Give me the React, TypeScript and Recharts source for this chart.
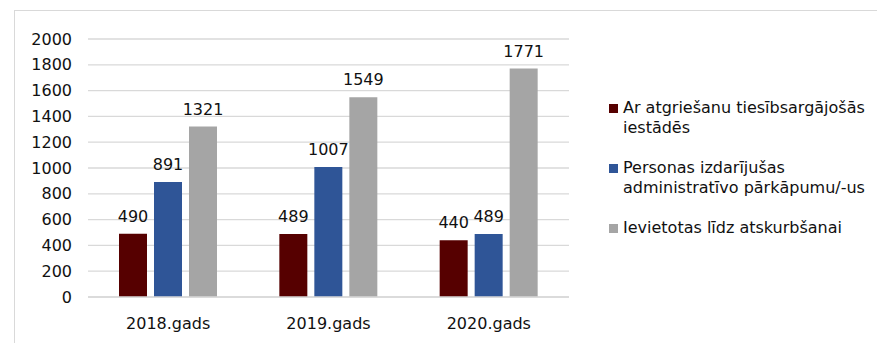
import { Bar, BarChart, CartesianGrid, LabelList, Legend, XAxis, YAxis } from "recharts";

const years = ["2018.gads", "2019.gads", "2020.gads"];
const returned = [490, 489, 440];
const offenders = [891, 1007, 489];
const sobering = [1321, 1549, 1771];
const yTicks = [0, 200, 400, 600, 800, 1000, 1200, 1400, 1600, 1800, 2000];

const seriesInfo = [
  { key: "returned", name: "Ar atgriešanu tiesībsargājošās iestādēs", color: "#560000" },
  { key: "offenders", name: "Personas izdarījušas administratīvo pārkāpumu/-us", color: "#2f5597" },
  { key: "sobering", name: "Ievietotas līdz atskurbšanai", color: "#a5a5a5" },
];

const data = years.map((y, i) => ({
  year: y,
  returned: returned[i],
  offenders: offenders[i],
  sobering: sobering[i],
}));

const font = "'DejaVu Sans', Verdana, sans-serif";
const textColor = "#111";

const LegendBox = () => (
  <div style={{ paddingLeft: 40, fontFamily: font, fontSize: 16, color: textColor }}>
    {seriesInfo.map((s, i) => (
      <div
        key={s.key}
        style={{ display: "flex", alignItems: "flex-start", marginBottom: i < 2 ? 20 : 0 }}
      >
        <span
          style={{
            width: 9,
            height: 9,
            background: s.color,
            flexShrink: 0,
            marginTop: 6,
            marginRight: 5,
          }}
        />
        <span style={{ width: 250, lineHeight: "20px" }}>{s.name}</span>
      </div>
    ))}
  </div>
);

export default function App() {
  return (
    <div style={{ position: "absolute", left: 0, top: 0, width: 877, height: 343, background: "#fff", overflow: "hidden" }}>
      <div
        style={{
          position: "absolute",
          left: 14,
          top: 10,
          width: 900,
          height: 400,
          borderTop: "1px solid #d9d9d9",
          borderLeft: "1px solid #d9d9d9",
        }}
      />
      <div style={{ position: "absolute", left: 0, top: 0 }}>
        <BarChart
          width={877}
          height={343}
          data={data}
          margin={{ top: 39, right: 0, bottom: 6, left: 8 }}
          barSize={28}
          barGap={7}
        >
          <CartesianGrid vertical={false} stroke="#d9d9d9" strokeWidth={1.3} />
          <XAxis
            dataKey="year"
            height={40}
            tickLine={false}
            tickSize={0}
            tickMargin={21}
            axisLine={{ stroke: "#d9d9d9", strokeWidth: 1.3 }}
            tick={{ fill: textColor, fontSize: 16, fontFamily: font }}
          />
          <YAxis
            width={80}
            domain={[0, 2000]}
            ticks={yTicks}
            interval={0}
            axisLine={false}
            tickLine={false}
            tickSize={0}
            tickMargin={16}
            tick={{ fill: textColor, fontSize: 16, fontFamily: font }}
          />
          <Legend
            layout="vertical"
            align="right"
            verticalAlign="middle"
            width={308}
            content={<LegendBox />}
            wrapperStyle={{ top: 98 }}
          />
          {seriesInfo.map((s) => (
            <Bar key={s.key} dataKey={s.key} name={s.name} fill={s.color} isAnimationActive={false}>
              <LabelList
                dataKey={s.key}
                position="top"
                offset={12}
                style={{ fill: textColor, fontSize: 16, fontFamily: font }}
              />
            </Bar>
          ))}
        </BarChart>
      </div>
    </div>
  );
}
